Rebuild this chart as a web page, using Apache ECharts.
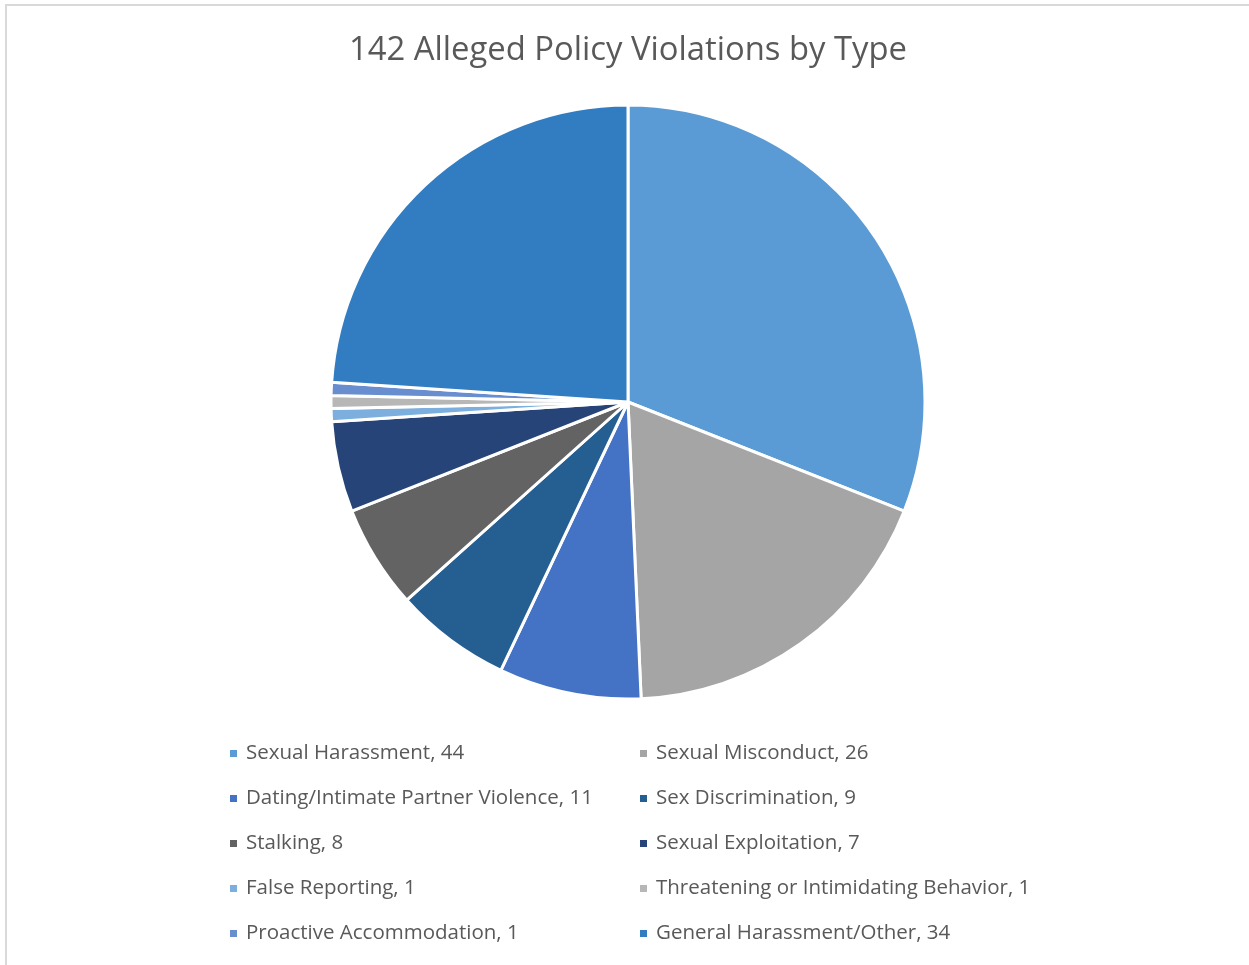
<!DOCTYPE html>
<html>
<head>
<meta charset="utf-8">
<script src="https://cdn.jsdelivr.net/npm/echarts@6/dist/echarts.min.js"></script>
<style>
  html, body { margin: 0; padding: 0; background: #fff; }
  #chart { width: 1249px; height: 965px; }
</style>
</head>
<body>
<div id="chart"></div>
<script>
// categories in slice order (clockwise from 12 o'clock)
var categories = [
    'Sexual Harassment',
    'Sexual Misconduct',
    'Dating/Intimate Partner Violence',
    'Sex Discrimination',
    'Stalking',
    'Sexual Exploitation',
    'False Reporting',
    'Threatening or Intimidating Behavior',
    'Proactive Accommodation',
    'General Harassment/Other'
];
var counts = [44, 26, 11, 9, 8, 7, 1, 1, 1, 34];
var colors = ['#5B9BD5', '#A5A5A5', '#4472C4', '#255E91', '#636363',
              '#264478', '#7CAFDD', '#B7B7B7', '#698ED0', '#327DC2'];

// legend is laid out in two columns, row by row
var leftCol = [], rightCol = [];
for (var i = 0; i < categories.length; i++) {
    (i % 2 === 0 ? leftCol : rightCol).push(categories[i]);
}

var chart = echarts.init(document.getElementById('chart'));

var legendBase = {
    orient: 'vertical',
    top: 743,
    padding: 0,
    itemWidth: 9,
    itemHeight: 9,
    itemGap: 24,
    icon: 'rect',
    textStyle: {
        color: '#595959', fontSize: 20.5, lineHeight: 20,
        fontFamily: 'Open Sans', padding: [0, 0, 0, 3]
    },
    formatter: function (name) {
        return name + ', ' + counts[categories.indexOf(name)];
    }
};

var option = {
    color: colors,
    animation: false,
    title: {
        text: '142 Alleged Policy Violations by Type',
        left: 349,
        top: 34,
        padding: 0,
        textStyle: { color: '#595959', fontSize: 32.8, fontWeight: 'normal', fontFamily: 'Open Sans' }
    },
    graphic: [{
        type: 'rect',
        shape: { x: 6, y: 5, width: 1400, height: 1100 },
        style: { fill: 'none', stroke: '#d9d9d9', lineWidth: 2 },
        silent: true
    }],
    legend: [
        Object.assign({}, legendBase, { left: 228, data: leftCol }),
        Object.assign({}, legendBase, { left: 638, data: rightCol })
    ],
    series: [{
        type: 'pie',
        center: [628, 402],
        radius: [0, 297],
        startAngle: 90,
        clockwise: true,
        label: { show: false },
        labelLine: { show: false },
        itemStyle: { borderColor: '#ffffff', borderWidth: 3 },
        emphasis: { disabled: true },
        data: categories.map(function (c, i) {
            return { name: c, value: counts[i] };
        })
    }]
};

chart.setOption(option);
</script>
</body>
</html>
